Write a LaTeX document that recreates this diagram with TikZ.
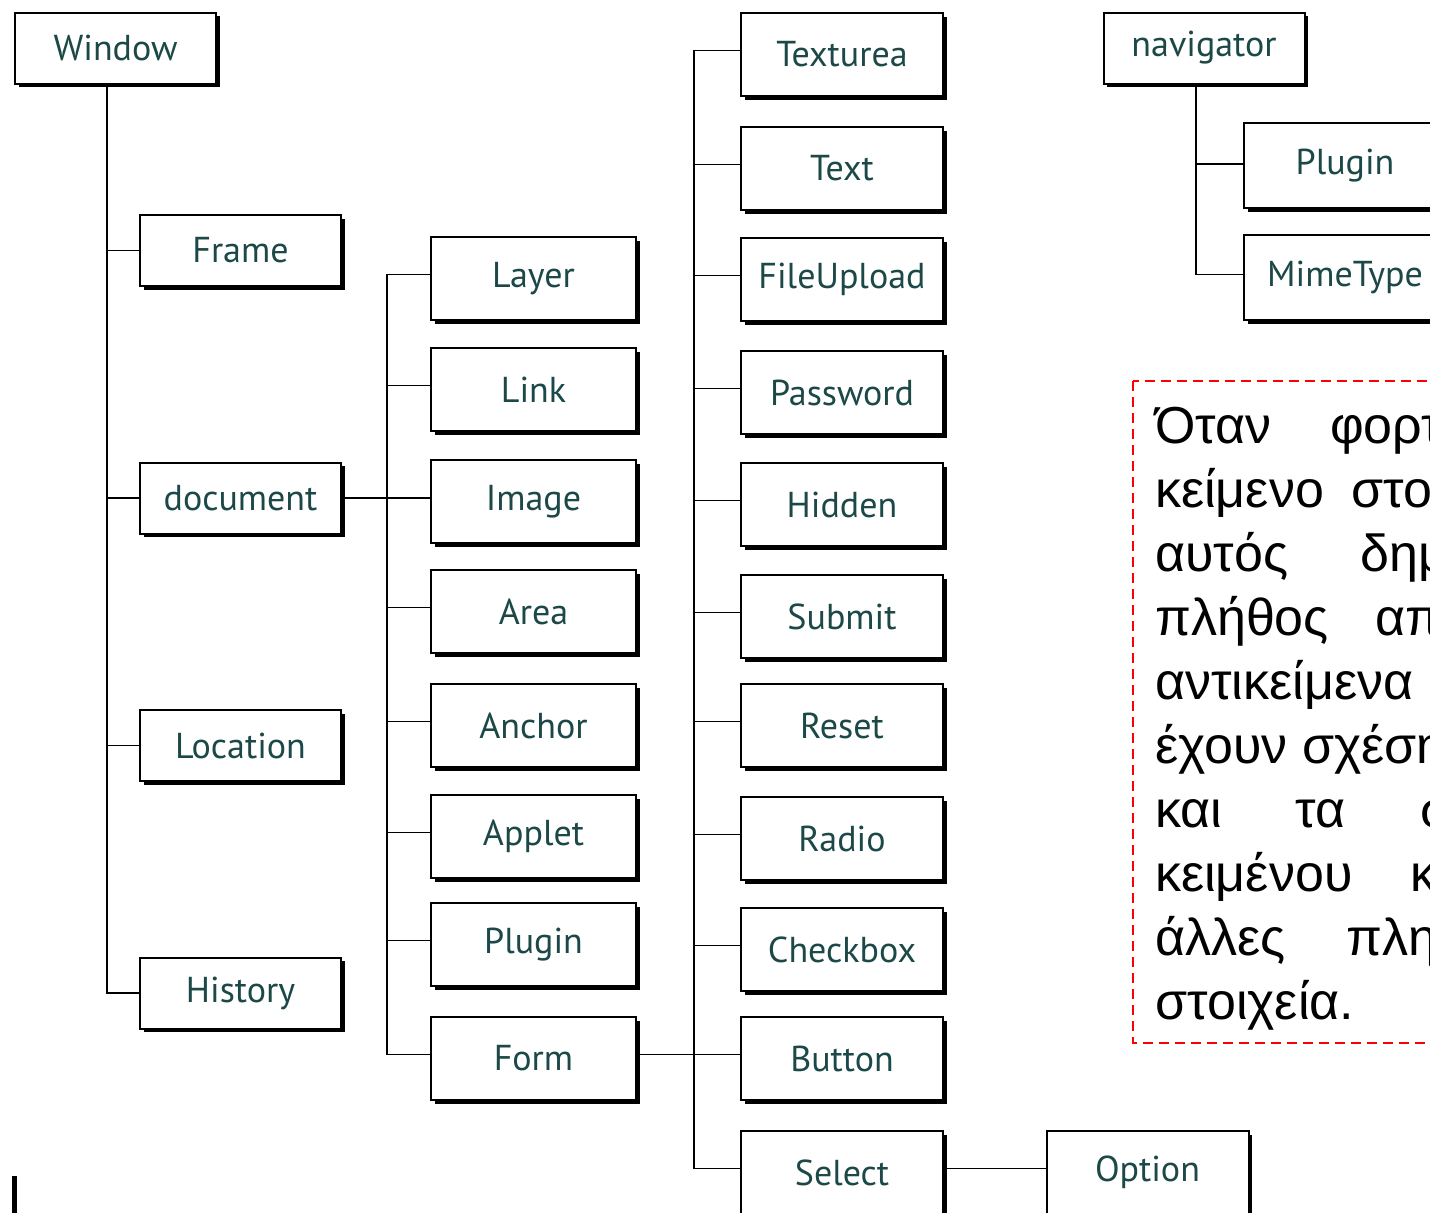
\documentclass[tikz,border=0pt]{standalone}
\usepackage{fontspec}
\usetikzlibrary{shadows}
\newfontfamily\lblfont{PT Sans}
\newfontfamily\grkfont{Liberation Sans}
\definecolor{lbl}{RGB}{28,72,72}
\begin{document}
\begin{tikzpicture}[x=1pt,y=-1pt,
  box/.style={draw=black, line width=2pt, fill=white, inner sep=0pt,
    font=\lblfont\fontsize{36}{40}\selectfont, text=lbl,
    drop shadow={shadow xshift=3.5pt, shadow yshift=-3.5pt, fill=black, opacity=1}},
  boxA/.style={box, minimum width=201pt, minimum height=71pt},
  boxB/.style={box, minimum width=205pt, minimum height=83pt},
  boxC/.style={box, minimum width=202pt, minimum height=83pt},
  link/.style={draw=black, line width=1.8pt},
  word/.style={anchor=base west, inner sep=0pt, font=\grkfont\fontsize{52}{60}\selectfont, text=black}]
\useasboundingbox (0,0) rectangle (1430,1213);
\clip (0,0) rectangle (1430,1213);
\fill[white] (0,0) rectangle (1430,1213);

% column 1
\node[boxA] (Window) at (115.5,48) {Window};
\node[boxA] (Frame) at (240.5,250.5) {Frame};
\node[boxA] (document) at (240.5,498) {document};
\node[boxA] (Location) at (240.5,745.5) {Location};
\node[boxA] (History) at (240.5,993) {History};

% column 2
\node[boxB] (Layer) at (533.5,278.5) {Layer};
\node[boxB] (Link) at (533.5,389.5) {Link};
\node[boxB] (Image) at (533.5,501.5) {Image};
\node[boxB] (Area) at (533.5,611.5) {Area};
\node[boxB] (Anchor) at (533.5,725.5) {Anchor};
\node[boxB] (Applet) at (533.5,836.5) {Applet};
\node[boxB] (PluginA) at (533.5,944.5) {Plugin};
\node[boxB] (Form) at (533.5,1058.5) {Form};

% column 3
\node[boxC] (Texturea) at (842,54.5) {Texturea};
\node[boxC] (Text) at (842,168.5) {Text};
\node[boxC] (FileUpload) at (842,279.5) {FileUpload};
\node[boxC] (Password) at (842,392.5) {Password};
\node[boxC] (Hidden) at (842,504.5) {Hidden};
\node[boxC] (Submit) at (842,616.5) {Submit};
\node[boxC] (Reset) at (842,725.5) {Reset};
\node[boxC] (Radio) at (842,838.5) {Radio};
\node[boxC] (Checkbox) at (842,949.5) {Checkbox};
\node[boxC] (Button) at (842,1058.5) {Button};
\node[boxC] (Select) at (842,1172.5) {Select};
\node[boxC] (Option) at (1147.5,1172.5) {Option};

% navigator
\node[boxA] (navigator) at (1204,48) {navigator};
\node[boxC, minimum height=85pt] (PluginN) at (1345,165.5) {Plugin};
\node[boxC, minimum height=85pt] (MimeType) at (1345,277.5) {MimeType};

% connectors column 1
\draw[link] ([xshift=-8.5pt]Window.south) |- (History.west);
\foreach \n in {Frame,document,Location}
  \draw[link] (\n.west) -- ++(-33,0);

% connectors column 2
\draw[link] (document.east) -- (document.east -| Image.west);
\draw[link] ([yshift=4pt]Layer.west) -- ++(-43,0) |- ([yshift=4pt]Form.west);
\foreach \n in {Link,Area,Anchor,Applet,PluginA}
  \draw[link] ([yshift=4pt]\n.west) -- ++(-43,0);

% connectors column 3
\draw[link] ([yshift=4pt]Form.east) -- ([yshift=4pt]Button.west);
\draw[link] ([yshift=4pt]Texturea.west) -- ++(-46,0) |- ([yshift=4pt]Select.west);
\foreach \n in {Text,FileUpload,Password,Hidden,Submit,Reset,Radio,Checkbox}
  \draw[link] ([yshift=4pt]\n.west) -- ++(-46,0);
\draw[link] ([yshift=4pt]Select.east) -- ([yshift=4pt]Option.west);

% navigator connectors
\draw[link] ([xshift=-8pt]navigator.south) |- ([yshift=3pt]MimeType.west);
\draw[link] ([yshift=1.5pt]PluginN.west) -- ++(-48,0);

% note box
\draw[red, line width=2pt, dash pattern=on 10pt off 6pt] (1133,381) rectangle (1450,1043);
\node[word] (w1a) at (1155,443) {Όταν};
\node[word] (w1b) at (1330,443) {φορτώνεται};
\node[word] (w2a) at (1155,507) {κείμενο};
\node[word] (w2b) at (1351,507) {στον};
\node[word] (w3a) at (1155,571) {αυτός};
\node[word] (w3b) at (1360,571) {δημιουργεί};
\node[word] (w4a) at (1155,635) {πλήθος};
\node[word] (w4b) at (1375,635) {από};
\node[word] (w5a) at (1155,699) {αντικείμενα};
\node[word] (w6a) at (1155,763) {έχουν};
\node[word] (w6b) at (1302,763) {σχέση};
\node[word] (w7a) at (1155,827) {και};
\node[word] (w7b) at (1295,827) {τα};
\node[word] (w7c) at (1420,827) {στοιχεία};
\node[word] (w8a) at (1155,891) {κειμένου};
\node[word] (w8b) at (1410,891) {και};
\node[word] (w9a) at (1155,955) {άλλες};
\node[word] (w9b) at (1346,955) {πληροφορίες};
\node[word] (w10a) at (1155,1019) {στοιχεία.};

% cursor mark
\draw[line width=4.5pt] (14.5,1176) -- (14.5,1220);
\end{tikzpicture}
\end{document}
